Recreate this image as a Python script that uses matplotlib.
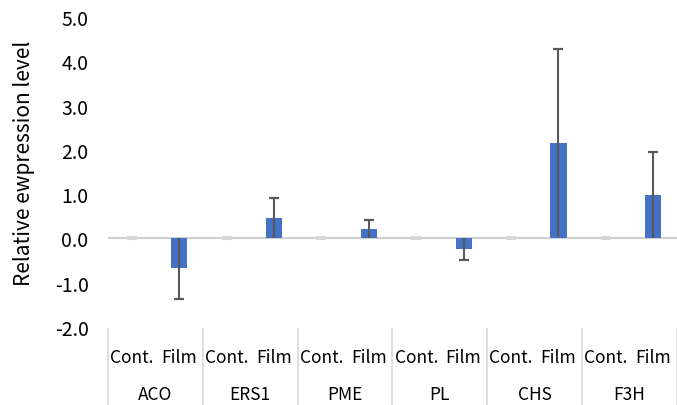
import numpy as np
import matplotlib
matplotlib.use("Agg")
import matplotlib.pyplot as plt
from matplotlib.lines import Line2D
import matplotlib.transforms as mtransforms

plt.rcParams['font.family'] = ['Noto Sans CJK KR', 'DejaVu Sans']

# data
genes = ['ACO', 'ERS1', 'PME', 'PL', 'CHS', 'F3H']
treatments = ['Cont.', 'Film']
cont_vals = [0.0, 0.0, 0.0, 0.0, 0.0, 0.0]
film_vals = [-0.67, 0.47, 0.22, -0.24, 2.16, 0.98]
film_err = [0.69, 0.45, 0.20, 0.24, 2.12, 0.98]
yticks = [-2.0, -1.0, 0.0, 1.0, 2.0, 3.0, 4.0, 5.0]

fig = plt.figure(figsize=(6.77, 4.06), dpi=100)
ax = fig.add_axes([0.1595, 0.192, 0.8405, 0.7636])

n = len(genes)
x_cont = np.arange(n) * 2
x_film = x_cont + 1
bar_w = 0.34
film_vals = np.array(film_vals)
film_err = np.array(film_err)

ax.axhline(0, color='#d0d0d0', linewidth=1.5, zorder=2)

ax.bar(x_cont, cont_vals, width=bar_w, color='#4472C4', zorder=3)
ax.bar(x_film, film_vals, width=bar_w, color='#4472C4', zorder=3)

# control bars are zero: only a short grey stub shows on the zero line
ax.plot(x_cont, cont_vals, ls='none', marker='_', ms=7, mew=3,
        color='#d6d6d6', zorder=3)

# error bars: line through the bar, cap only at the outer end
ax.errorbar(x_film, film_vals, yerr=film_err, fmt='none', ecolor='#595959',
            elinewidth=1.5, capsize=0, zorder=4)
outer = film_vals + np.sign(film_vals) * film_err
ax.plot(x_film, outer, ls='none', marker='_', ms=7, mew=1.6,
        color='#595959', zorder=4)

ax.set_xlim(-0.5, 2 * n - 0.5)
ax.set_ylim(-2.0, 5.0)
ax.set_yticks(yticks)
ax.set_yticklabels(['%.1f' % v for v in yticks])
ax.tick_params(axis='y', length=0, pad=14, labelsize=14)
ax.set_xticks([])
for s in ax.spines.values():
    s.set_visible(False)

ax.set_ylabel('Relative ewpression level', fontsize=15)
ax.yaxis.set_label_coords(-0.128, 0.53)

# two-level category axis below the plot
trans = mtransforms.blended_transform_factory(ax.transData, ax.transAxes)
for i, g in enumerate(genes):
    ax.text(x_cont[i], -0.097, treatments[0], transform=trans, ha='center',
            va='center', fontsize=12.5)
    ax.text(x_film[i], -0.097, treatments[1], transform=trans, ha='center',
            va='center', fontsize=12.5)
    ax.text(x_cont[i] + 0.5, -0.216, g, transform=trans, ha='center',
            va='center', fontsize=12.5)
for xd in np.arange(n + 1) * 2 - 0.5:
    ax.add_line(Line2D([xd, xd], [-0.007, -0.26], transform=trans,
                       color='#d9d9d9', linewidth=1.2, clip_on=False))

fig.savefig('out.png', dpi=100)
